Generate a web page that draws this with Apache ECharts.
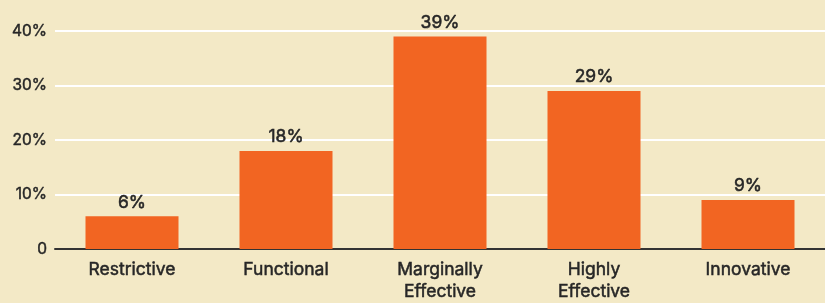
<!DOCTYPE html>
<html><head><meta charset="utf-8">
<script src="https://cdn.jsdelivr.net/npm/echarts@6/dist/echarts.min.js"></script>
<style>html,body{margin:0;padding:0;background:#F3E9C6;}#c{width:825px;height:303px;}</style>
</head><body><div id="c"></div>
<script>
const categories = ["Restrictive", "Functional", "Marginally\nEffective", "Highly\nEffective", "Innovative"];
const values = [6, 18, 39, 29, 9];
const yTicks = [0, 10, 20, 30, 40];

const FONT = 'Inter, "Liberation Sans", Arial, sans-serif';
const TXT = '#262626';
const chart = echarts.init(document.getElementById('c'));
chart.setOption({
  backgroundColor: '#F3E9C6',
  animation: false,
  grid: {left: 55, right: 0, top: 31, bottom: 52},
  xAxis: {
    type: 'category', data: categories,
    axisTick: {show: false},
    axisLine: {lineStyle: {color: '#333', width: 2}},
    axisLabel: {color: TXT, fontFamily: FONT, fontSize: 17.5, margin: 10, lineHeight: 22,
      textBorderColor: TXT, textBorderWidth: 0.5}
  },
  yAxis: {
    type: 'value', min: 0, max: 40, interval: 10,
    axisLine: {show: false}, axisTick: {show: false},
    splitLine: {lineStyle: {color: '#ffffff', width: 2}},
    axisLabel: {color: TXT, fontFamily: FONT, fontSize: 15.5, margin: 8,
      textBorderColor: TXT, textBorderWidth: 0.45,
      formatter: v => yTicks.includes(v) ? (v === 0 ? '0' : v + '%') : ''}
  },
  series: [{
    type: 'bar', data: values, barWidth: 93,
    itemStyle: {color: '#F26522'},
    label: {show: true, position: 'top', distance: 5, color: TXT, fontFamily: FONT, fontSize: 17.5,
      textBorderColor: TXT, textBorderWidth: 0.5, formatter: p => p.value + '%'}
  }]
});
</script></body></html>
